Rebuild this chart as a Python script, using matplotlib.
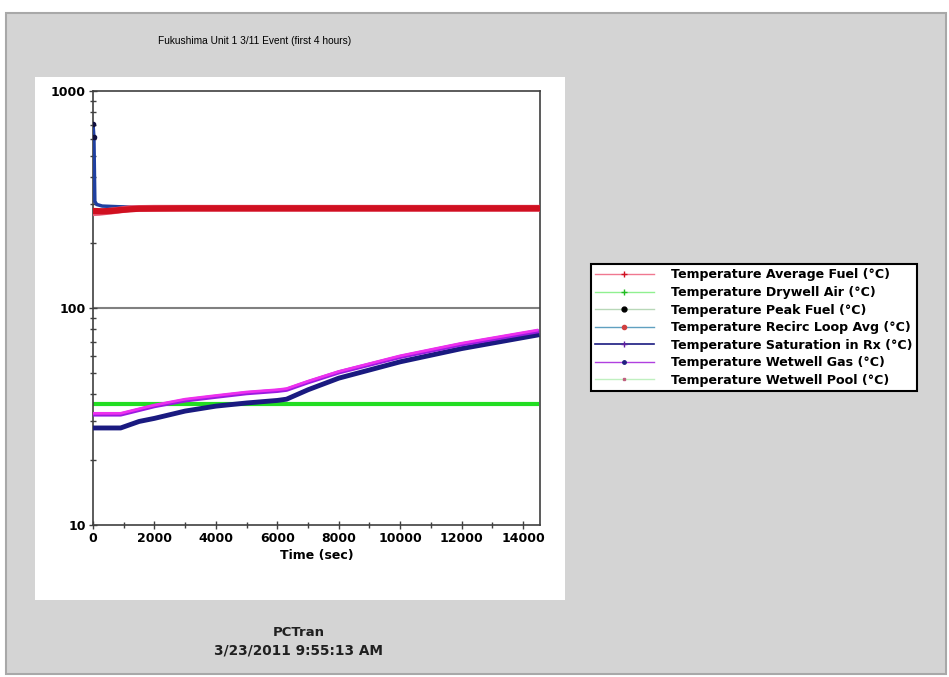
import matplotlib.pyplot as plt
from matplotlib.patches import Rectangle
from matplotlib.lines import Line2D
from matplotlib.ticker import FixedLocator, NullFormatter

plt.rcParams['font.family'] = ['DejaVu Sans']

# data (time in sec, temperature in C)
t_fuel = [0, 200, 400, 800, 1200, 2000, 4000, 8000, 12000, 14450]
avg_fuel = [275, 276, 278, 282, 287, 288, 288, 288, 288, 288]

t_dry = [0, 14450]
drywell_air = [36, 36]

t_peak = [0, 30, 60, 120, 300, 800, 1500, 2400]
peak_fuel = [705, 614, 310, 300, 295, 293, 291, 290]

t_recirc = [0, 300, 600, 900, 1500, 3000, 8000, 14450]
recirc = [280, 279, 280, 283, 287, 288, 288, 288]

t_sat = [0, 900, 1500, 2000, 3000, 4000, 5000, 6000, 6300, 7000, 8000, 10000, 12000, 14450]
sat_rx = [28, 28, 30, 31, 33.5, 35.3, 36.5, 37.5, 38, 42, 47.5, 56.5, 65, 75]

t_ww = [0, 900, 2000, 3000, 4000, 5000, 6000, 6300, 7000, 8000, 10000, 12000, 14450]
ww_gas = [32.3, 32.3, 35.3, 37.5, 39, 40.5, 41.5, 42, 45.5, 50.5, 59.5, 68, 78]
ww_pool = [32.7, 32.7, 35.7, 38, 39.5, 41, 42, 42.5, 46, 51, 60.2, 68.8, 79]

labels = ['Temperature Average Fuel (°C)',
          'Temperature Drywell Air (°C)',
          'Temperature Peak Fuel (°C)',
          'Temperature Recirc Loop Avg (°C)',
          'Temperature Saturation in Rx (°C)',
          'Temperature Wetwell Gas (°C)',
          'Temperature Wetwell Pool (°C)']

W, H = 949, 677
fig = plt.figure(figsize=(W / 100, H / 100), dpi=100)
fig.patch.set_facecolor('white')

def px_rect(x0, y0, x1, y1, **kw):
    r = Rectangle((x0 / W, 1 - y1 / H), (x1 - x0) / W, (y1 - y0) / H,
                  transform=fig.transFigure, zorder=-5, **kw)
    fig.patches.append(r)

# grey window and white plot panel
px_rect(6, 13, 946, 674, facecolor='#d4d4d4', edgecolor='#a8a8a8', lw=1.5)
px_rect(35, 77, 565, 600, facecolor='white', edgecolor='none')

ax = fig.add_axes([93 / W, 1 - 525 / H, (540 - 93) / W, (525 - 91) / H])
ax.set_facecolor('white')
ax.set_yscale('log')
ax.set_xlim(0, 14550)
ax.set_ylim(10, 1000)

ax.axhline(100, color='#808080', lw=1.5, zorder=1)

ax.plot(t_dry, drywell_air, color='#22dd22', lw=3, zorder=2)
ax.plot(t_sat, sat_rx, color='#1a1a80', lw=3.5, zorder=3)
ax.plot(t_ww, ww_gas, color='#9a1ae0', lw=3, zorder=4)
ax.plot(t_ww, ww_pool, color='#ee30ee', lw=2, zorder=5)
ax.plot(t_peak, peak_fuel, color='#2040a0', lw=2.5, zorder=3)
ax.plot(t_peak[:2], peak_fuel[:2], 'o', color='#101040', ms=3, zorder=6)
ax.plot(t_fuel, avg_fuel, color='#e8607a', lw=5, zorder=4)
ax.plot(t_recirc, recirc, color='#d01020', lw=4.5, zorder=5)

for s in ax.spines.values():
    s.set_color('#404040')
    s.set_linewidth(1.2)

ax.set_yticks([10, 100, 1000])
ax.set_yticklabels(['10', '100', '1000'], fontsize=9, fontweight='bold')
ax.yaxis.set_minor_locator(FixedLocator([v * d for d in (10, 100) for v in range(2, 10)]))
ax.yaxis.set_minor_formatter(NullFormatter())
ax.set_xticks(range(0, 14001, 2000))
ax.set_xticklabels([str(v) for v in range(0, 14001, 2000)], fontsize=9, fontweight='bold')
ax.xaxis.set_minor_locator(FixedLocator(range(1000, 14001, 2000)))
ax.tick_params(which='major', direction='inout', length=6, width=1, color='#404040', pad=2)
ax.tick_params(which='minor', direction='inout', length=4, width=1, color='#404040')
ax.set_xlabel('Time (sec)', fontsize=9, fontweight='bold', labelpad=3)

fig.text(255 / W, 1 - 41 / H, 'Fukushima Unit 1 3/11 Event (first 4 hours)',
         ha='center', va='center', fontsize=7.3,
         family=['Liberation Sans Narrow', 'Liberation Sans'])
fig.text(299 / W, 1 - 632 / H, 'PCTran', ha='center', va='center',
         fontsize=9.5, fontweight='bold', color='#202020')
fig.text(299 / W, 1 - 650 / H, '3/23/2011 9:55:13 AM', ha='center', va='center',
         fontsize=9.8, fontweight='bold', color='#202020')

handles = [
    Line2D([], [], color='#f07890', lw=1, marker='+', mec='#d01020', ms=4),
    Line2D([], [], color='#90f090', lw=1, marker='+', mec='#22bb22', ms=4),
    Line2D([], [], color='#b8d8b8', lw=1, marker='o', mfc='black', mec='black', ms=3.5),
    Line2D([], [], color='#60a0c0', lw=1, marker='o', mfc='#d04040', mec='#d04040', ms=3),
    Line2D([], [], color='#1a1a80', lw=1.2, marker='+', mec='#6020a0', ms=4),
    Line2D([], [], color='#b040e0', lw=1, marker='o', mfc='#202080', mec='#202080', ms=2.5),
    Line2D([], [], color='#c0f0c0', lw=1, marker='s', mfc='#c06080', mec='#c06080', ms=2),
]
leg = fig.legend(handles, labels, loc='upper left',
                 bbox_to_anchor=(591 / W, 1 - 264 / H),
                 prop={'weight': 'bold', 'size': 9.1}, frameon=True, fancybox=False,
                 handlelength=4.6, handletextpad=1.4, labelspacing=0.36,
                 borderpad=0.35, borderaxespad=0)
leg.get_frame().set_edgecolor('black')
leg.get_frame().set_linewidth(1.5)
leg.get_frame().set_facecolor('white')
leg.get_frame().set_alpha(1)

fig.savefig('out.png', dpi=100, facecolor=fig.get_facecolor())
